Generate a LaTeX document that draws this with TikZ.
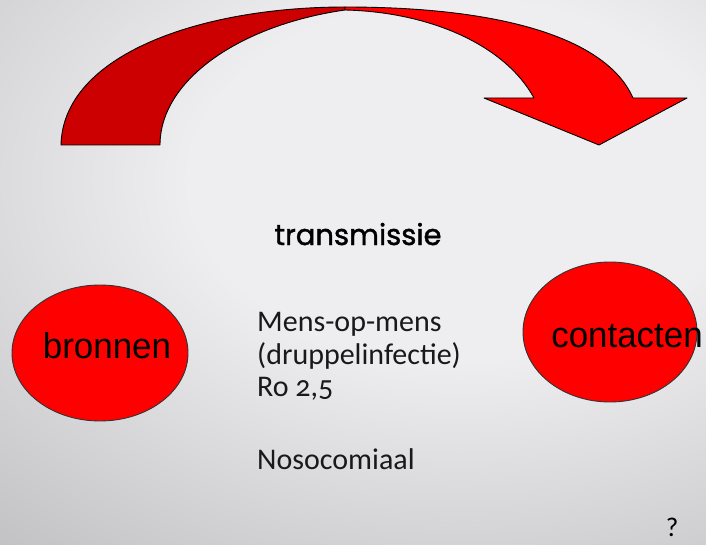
\documentclass[tikz,border=0pt]{standalone}
\usepackage{fontspec}
\setmainfont{Carlito}[Numbers=OldStyle]
\newfontfamily\arialf{Liberation Sans}
\newfontfamily\comicf{Poppins}[FakeBold=1.4]
\usetikzlibrary{shapes.geometric}
\definecolor{bgA}{HTML}{EEEEF1}
\definecolor{bgB}{HTML}{C2C2C5}
\definecolor{bgC}{HTML}{B1B1B4}
\definecolor{bgD}{HTML}{A8A8AB}
\definecolor{bgE}{HTML}{9E9EA2}
\definecolor{bgF}{HTML}{98989C}
\definecolor{darkred}{HTML}{CC0000}
\definecolor{brightred}{HTML}{FF0000}
\pgfdeclareradialshading{bgshade}{\pgfpoint{0bp}{0bp}}{color(0bp)=(bgA); color(9bp)=(bgA); color(24bp)=(bgB); color(31bp)=(bgC); color(36bp)=(bgD); color(40bp)=(bgE); color(50bp)=(bgF)}
\tikzset{
  band/.style={draw=black, line width=0.9pt, line join=round},
  blob/.style={ellipse, draw=black!80, line width=0.9pt, fill=brightred, inner sep=0pt},
  bodytext/.style={anchor=base west, inner sep=0pt, font=\fontsize{30}{34}\selectfont, text=black!90},
  blobtext/.style={anchor=base, inner sep=0pt, font=\arialf\fontsize{36}{40}\selectfont, text=black}
}
\begin{document}
\begin{tikzpicture}[x=1pt,y=-1pt]
\useasboundingbox (0,0) rectangle (706,545);
\begin{scope}
  \clip (0,0) rectangle (706,545);
  \fill[bgF] (0,0) rectangle (706,545);
  \shade[shading=bgshade] (460,180) ellipse [x radius=750, y radius=500];
\end{scope}
% curved arrow: back (left) band
\filldraw[band, fill=darkred] (61,145) .. controls (63,55) and (200,7) .. (345,7)
  -- (345,10) .. controls (240,25) and (160,80) .. (160,145) -- cycle;
% front (right) band with head
\filldraw[band, fill=brightred] (345,7) .. controls (520,7) and (610,45) .. (633,98)
  -- (687,98) -- (599,145) -- (484,98) -- (534,98)
  .. controls (505,45) and (430,12) .. (345,10) -- cycle;
% circles
\node[blob, minimum width=176pt, minimum height=136pt] (bron) at (100,353) {};
\node[blob, minimum width=174pt, minimum height=140pt] (cont) at (610,332) {};
\node[blobtext, xscale=0.97] (bront) at (107,358) {bronnen};
\node[blobtext, xscale=0.97] (contt) at (627,347) {contacten};
% texts
\node[anchor=base, inner sep=0pt, font=\comicf\fontsize{29}{32}\selectfont] (trans) at (358,245) {transmissie};
\node[bodytext] (l1) at (257,331) {Mens-op-mens};
\node[bodytext] (l2) at (257,364) {(druppelinfectie)};
\node[bodytext] (l3) at (257,396) {Ro 2,5};
\node[bodytext] (l4) at (257,469) {Nosocomiaal};
\node[anchor=base, inner sep=0pt, font=\fontsize{27}{30}\selectfont] (q) at (672,536) {?};
\end{tikzpicture}
\end{document}
